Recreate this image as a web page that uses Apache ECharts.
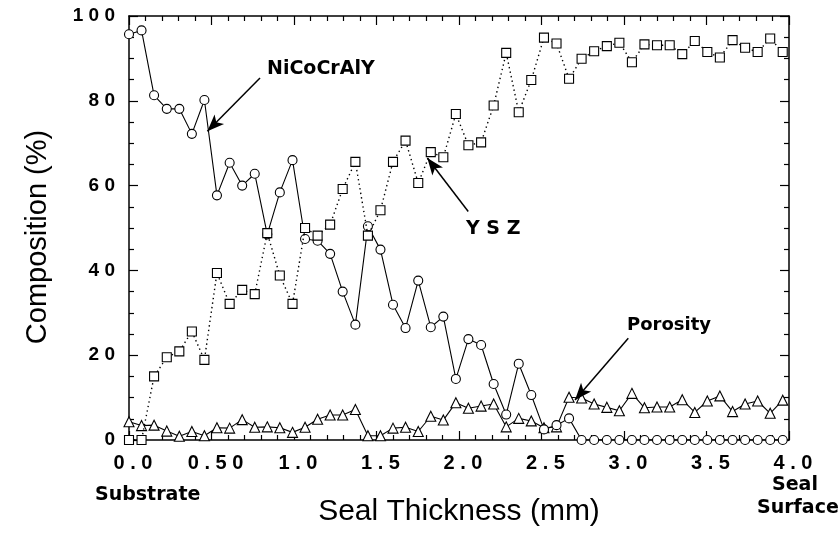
<!DOCTYPE html>
<html><head><meta charset="utf-8">
<script src="https://cdn.jsdelivr.net/npm/echarts@6/dist/echarts.min.js"></script>
<style>html,body{margin:0;padding:0;background:#fff}#c{width:840px;height:544px}</style>
</head><body><div id="c"></div>
<script>
// Seal thickness (mm) of each measurement
const thickness = [
  0.000, 0.076, 0.152, 0.229, 0.305, 0.381, 0.457, 0.533, 0.610, 0.686,
  0.762, 0.838, 0.914, 0.991, 1.067, 1.143, 1.219, 1.295, 1.372, 1.448,
  1.524, 1.600, 1.676, 1.753, 1.829, 1.905, 1.981, 2.057, 2.134, 2.210,
  2.286, 2.362, 2.438, 2.515, 2.591, 2.667, 2.743, 2.819, 2.896, 2.972,
  3.048, 3.124, 3.200, 3.277, 3.353, 3.429, 3.505, 3.581, 3.658, 3.734,
  3.810, 3.886, 3.962
];
// Composition (%)
const nicocraly = [
  95.7, 96.6, 81.3, 78.1, 78.1, 72.2, 80.2, 57.7, 65.4, 60.0,
  62.8, 48.5, 58.4, 66.0, 47.4, 47.0, 43.9, 35.0, 27.2, 50.4,
  44.9, 31.9, 26.4, 37.6, 26.6, 29.1, 14.4, 23.8, 22.4, 13.2,
  6.0, 18.0, 10.6, 2.5, 3.5, 5.1, 0, 0, 0, 0,
  0, 0, 0, 0, 0, 0, 0, 0, 0, 0,
  0, 0, 0
];
const ysz = [
  0, 0, 15.0, 19.5, 20.9, 25.6, 18.9, 39.4, 32.1, 35.4,
  34.4, 48.8, 38.8, 32.1, 50.0, 48.2, 50.8, 59.2, 65.6, 48.2,
  54.2, 65.6, 70.6, 60.6, 67.9, 66.7, 76.9, 69.5, 70.2, 78.9,
  91.3, 77.3, 84.9, 94.9, 93.5, 85.2, 89.9, 91.7, 92.9, 93.7,
  89.1, 93.3, 93.1, 93.1, 91.0, 94.1, 91.5, 90.2, 94.3, 92.5,
  91.5, 94.7, 91.5
];
const porosity = [
  4.3, 3.4, 3.5, 2.1, 0.9, 2.0, 1.0, 2.9, 2.8, 4.8,
  3.0, 3.1, 2.9, 1.8, 3.0, 4.9, 5.9, 5.9, 7.2, 1.0,
  1.0, 2.8, 3.0, 2.0, 5.6, 4.7, 8.8, 7.5, 8.0, 8.5,
  3.1, 5.1, 4.5, 2.9, 3.1, 10.1, 9.9, 8.5, 7.7, 6.9,
  11.0, 7.6, 7.8, 7.8, 9.5, 6.5, 9.2, 10.4, 6.7, 8.5,
  9.2, 6.3, 9.4
];
const xTickLabels = ['0.0', '0.50', '1.0', '1.5', '2.0', '2.5', '3.0', '3.5', '4.0'];
const yTickLabels = ['0', '20', '40', '60', '80', '100'];

const spaced = s => s.split('').join(' ');
const pairs = arr => thickness.map((x, i) => [x, arr[i]]);

const boldFont = 'Liberation Sans';
const tickCommon = {show: true, inside: true, length: 9, lineStyle: {color: '#000', width: 1.2}};
const minorCommon = {show: true, length: 5, lineStyle: {color: '#000', width: 1.2}};
const lineCommon = {show: true, onZero: false, lineStyle: {color: '#000', width: 1.5}};

const chart = echarts.init(document.getElementById('c'), null, {renderer: 'canvas'});
chart.setOption({
  animation: false,
  backgroundColor: '#fff',
  grid: {left: 129, right: 51, top: 16, bottom: 104, containLabel: false},
  xAxis: [{
    type: 'value', min: 0, max: 4, interval: 0.5, position: 'bottom',
    axisLine: lineCommon, axisTick: tickCommon,
    minorTick: Object.assign({splitNumber: 5}, minorCommon),
    splitLine: {show: false},
    axisLabel: {
      margin: 13, color: '#000', fontFamily: boldFont, fontWeight: 'bold', fontSize: 20,
      padding: [0, 0, 0, 8],
      formatter: v => spaced(xTickLabels[Math.round(v / 0.5)] || '')
    },
    name: 'Seal Thickness (mm)', nameLocation: 'middle', nameGap: 57,
    nameTextStyle: {color: '#000', fontFamily: 'Liberation Sans', fontSize: 30}
  }, {
    type: 'value', min: 0, max: 4, interval: 0.5, position: 'top',
    axisLine: lineCommon, axisTick: tickCommon,
    minorTick: Object.assign({splitNumber: 5}, minorCommon),
    splitLine: {show: false}, axisLabel: {show: false}
  }],
  yAxis: [{
    type: 'value', min: 0, max: 100, interval: 20, position: 'left',
    axisLine: lineCommon, axisTick: tickCommon,
    minorTick: Object.assign({splitNumber: 4}, minorCommon),
    splitLine: {show: false},
    axisLabel: {
      margin: 14, color: '#000', fontFamily: boldFont, fontWeight: 'bold', fontSize: 19,
      formatter: v => spaced(yTickLabels[Math.round(v / 20)] || '')
    }
  }, {
    type: 'value', min: 0, max: 100, interval: 20, position: 'right',
    axisLine: lineCommon, axisTick: tickCommon,
    minorTick: Object.assign({splitNumber: 4}, minorCommon),
    splitLine: {show: false}, axisLabel: {show: false}
  }],
  series: [{
    name: 'Porosity', type: 'line', data: pairs(porosity),
    symbol: 'triangle', symbolSize: 10, z: 2,
    itemStyle: {color: '#fff', borderColor: '#000', borderWidth: 1.1},
    lineStyle: {color: '#000', width: 1.1},
    markLine: {
      silent: true, symbol: ['none', 'arrow'], symbolSize: [10, 17],
      lineStyle: {color: '#000', width: 1.5, type: 'solid'}, label: {show: false},
      data: [[{coord: [3.026, 24.0]}, {coord: [2.703, 9.45]}]]
    }
  }, {
    name: 'NiCoCrAlY', type: 'line', data: pairs(nicocraly),
    symbol: 'circle', symbolSize: 9, z: 3,
    itemStyle: {color: '#fff', borderColor: '#000', borderWidth: 1.1},
    lineStyle: {color: '#000', width: 1.1},
    markLine: {
      silent: true, symbol: ['none', 'arrow'], symbolSize: [10, 17],
      lineStyle: {color: '#000', width: 1.5, type: 'solid'}, label: {show: false},
      data: [[{coord: [0.794, 85.4]}, {coord: [0.475, 72.8]}]]
    }
  }, {
    name: 'YSZ', type: 'line', data: pairs(ysz),
    symbol: 'rect', symbolSize: 9, z: 4,
    itemStyle: {color: '#fff', borderColor: '#000', borderWidth: 1.1},
    lineStyle: {color: '#000', width: 1.4, type: [1.4, 3.2]},
    markLine: {
      silent: true, symbol: ['none', 'arrow'], symbolSize: [10, 17],
      lineStyle: {color: '#000', width: 1.5, type: 'solid'}, label: {show: false},
      data: [[{coord: [2.056, 53.9]}, {coord: [1.808, 66.5]}]]
    }
  }],
  graphic: [
    {type: 'text', x: 38, y: 237, rotation: Math.PI / 2,
     style: {text: 'Composition (%)', fill: '#000', font: '29px "Liberation Sans"', align: 'center', verticalAlign: 'middle'}},
    {type: 'text', left: 267, top: 60, style: {text: 'NiCoCrAlY', fill: '#000', font: 'bold 19px "DejaVu Sans"'}},
    {type: 'text', left: 466, top: 220, style: {text: 'Y S Z', fill: '#000', font: 'bold 19px "DejaVu Sans"'}},
    {type: 'text', left: 627, top: 316, style: {text: 'Porosity', fill: '#000', font: 'bold 18px "DejaVu Sans"'}},
    {type: 'text', left: 95, top: 486, style: {text: 'Substrate', fill: '#000', font: 'bold 19px "DejaVu Sans"'}},
    {type: 'text', left: 772, top: 476, style: {text: 'Seal', fill: '#000', font: 'bold 19px "DejaVu Sans"'}},
    {type: 'text', left: 757, top: 499, style: {text: 'Surface', fill: '#000', font: 'bold 19px "DejaVu Sans"'}}
  ]
});
</script></body></html>
